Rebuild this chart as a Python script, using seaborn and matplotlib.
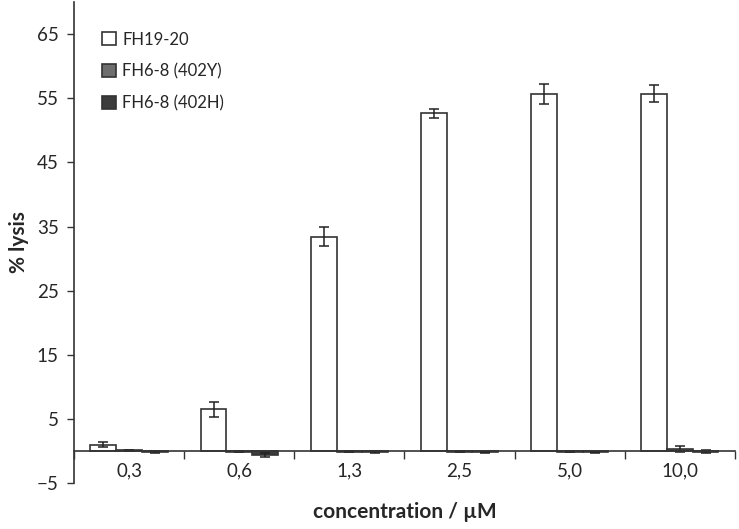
import pandas as pd
import seaborn as sns
import matplotlib.pyplot as plt
from matplotlib.ticker import FixedLocator, NullFormatter

# values
concentrations = ['0,3', '0,6', '1,3', '2,5', '5,0', '10,0']
series = ['FH19-20', 'FH6-8 (402Y)', 'FH6-8 (402H)']
fh19_20 = [1.0, 6.5, 33.4, 52.7, 55.7, 55.7]
fh19_20_err = [0.4, 1.2, 1.5, 0.7, 1.6, 1.3]
fh68_402y = [0.1, -0.1, -0.1, -0.1, -0.1, 0.3]
fh68_402y_err = [0.05, 0.1, 0.1, 0.1, 0.1, 0.5]
fh68_402h = [-0.2, -0.6, -0.2, -0.2, -0.2, -0.1]
fh68_402h_err = [0.2, 0.3, 0.2, 0.1, 0.1, 0.3]
colors = ['#ffffff', '#6e6e6e', '#3c3c3c']

data = pd.DataFrame({
    'concentration': concentrations * 3,
    'series': [s for s in series for _ in concentrations],
    'lysis': fh19_20 + fh68_402y + fh68_402h,
})
errors = [fh19_20_err, fh68_402y_err, fh68_402h_err]

sns.set_style('ticks')
plt.rcParams['font.family'] = ['Lato', 'DejaVu Sans']

fig = plt.figure(figsize=(7.39, 5.29), dpi=100)
ax = fig.add_axes([0.1001, 0.087, 0.8945, 0.909])

sns.barplot(data=data, x='concentration', y='lysis', hue='series',
            order=concentrations, hue_order=series, palette=colors,
            width=0.7, errorbar=None, edgecolor='#333333', linewidth=1.2,
            legend=True, ax=ax)

# error bars on top of each bar
for container, err in zip(ax.containers, errors):
    xs = [p.get_x() + p.get_width() / 2 for p in container.patches]
    ys = [p.get_y() + p.get_height() for p in container.patches]
    ax.errorbar(xs, ys, yerr=err, fmt='none', ecolor='#222222',
                elinewidth=1.1, capsize=3.5, capthick=1.1)

ax.set_ylim(-5, 70)
ax.set_xlim(-0.5, len(concentrations) - 0.5)
ax.set_yticks(list(range(-5, 70, 10)))

# category boundaries as ticks, labels in the middle
ax.xaxis.set_major_locator(FixedLocator([i - 0.5 for i in range(len(concentrations) + 1)]))
ax.xaxis.set_major_formatter(NullFormatter())
ax.xaxis.set_minor_locator(FixedLocator(list(range(len(concentrations)))))
ax.set_xticklabels(concentrations, minor=True)
ax.tick_params(axis='x', which='minor', length=0, pad=8, labelsize=13.5)
ax.tick_params(axis='x', which='major', length=6, width=1, color='#333333', direction='out')
ax.tick_params(axis='y', length=5, width=1, color='#333333', labelsize=13.5, pad=6)

ax.spines['bottom'].set_position(('data', 0))
ax.spines['top'].set_visible(False)
ax.spines['right'].set_visible(False)
for s in ['bottom', 'left']:
    ax.spines[s].set_color('#333333')
    ax.spines[s].set_linewidth(1.2)

ax.set_xlabel('concentration / µM', fontsize=15, fontweight='bold')
ax.set_ylabel('% lysis', fontsize=15, fontweight='bold')
ax.xaxis.set_label_coords(0.5, -0.04)
ax.yaxis.set_label_coords(-0.068, 0.5)

ax.legend(loc='upper left', bbox_to_anchor=(0.02, 0.97), frameon=False,
          fontsize=12, handlelength=0.8, handleheight=0.8,
          labelspacing=0.95, handletextpad=0.4)

fig.savefig('out.png', dpi=100)
